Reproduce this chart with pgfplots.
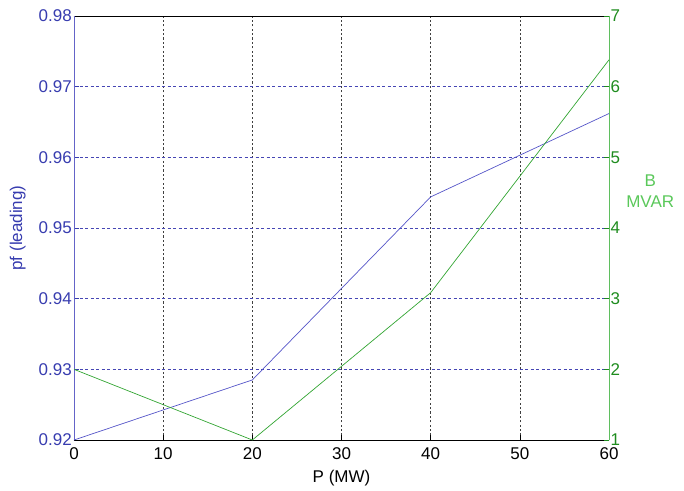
\documentclass[border=0pt]{standalone}
\usepackage{fontspec}
\setmainfont{Liberation Sans}
\usepackage{pgfplots}
\pgfplotsset{compat=1.18}
\definecolor{tickblue}{RGB}{55,60,175}
\definecolor{lineblue}{RGB}{85,85,200}
\definecolor{spineblue}{RGB}{100,100,200}
\definecolor{gridblue}{RGB}{70,70,180}
\definecolor{tickgreen}{RGB}{30,140,30}
\definecolor{linegreen}{RGB}{50,165,50}
\definecolor{spinegreen}{RGB}{95,190,95}
\definecolor{labelgreen}{RGB}{90,200,90}
\begin{document}
\begin{tikzpicture}
\pgfplotsset{every axis/.append style={
  width=535pt, height=424pt, scale only axis,
  xmin=0, xmax=60,
  /pgf/number format/assume math mode=true,
  tick label style={font=\fontsize{17}{20}\selectfont},
  tick align=inside, major tick length=5pt,
}}
\begin{axis}[name=a,
  ymin=0.92, ymax=0.98,
  xtick={0,10,20,30,40,50,60},
  ytick={0.92,0.93,0.94,0.95,0.96,0.97,0.98},
  xtick pos=left, ytick pos=left,
  separate axis lines,
  x axis line style={black, line width=0.8pt},
  y axis line style={spineblue, line width=0.8pt},
  xtick style={black, line width=0.6pt},
  ytick style={tickblue, line width=0.6pt},
  yticklabel style={text=tickblue, inner sep=2pt, /pgf/number format/.cd, fixed, fixed zerofill, precision=2},
  xticklabel style={inner xsep=1.5pt, inner ysep=0.3pt, yshift=-7pt},
  xmajorgrids, ymajorgrids,
  x grid style={black!75, dash pattern=on 2.2pt off 2.2pt, line width=0.6pt},
  y grid style={gridblue, dash pattern=on 3pt off 2.5pt, line width=0.6pt},
  xlabel={P (MW)},
  ylabel={pf (leading)},
  every axis x label/.style={at={(axis description cs:0.5,-0.09)}, anchor=center, font=\fontsize{17}{20}\selectfont},
  every axis y label/.style={at={(axis description cs:-0.105,0.5)}, anchor=center, rotate=90, text=tickblue, font=\fontsize{17}{20}\selectfont},
]
\addplot[lineblue, line width=0.7pt] coordinates {(0,0.92) (20,0.9285) (40,0.9544) (60,0.9662)};
\end{axis}
\begin{axis}[
  ymin=1, ymax=7,
  ytick={1,2,3,4,5,6,7},
  axis x line=none, axis y line*=right,
  y axis line style={spinegreen, line width=0.8pt},
  ytick style={tickgreen, line width=0.6pt},
  yticklabel style={text=tickgreen, inner xsep=1.5pt, inner ysep=0pt},
  ylabel={B\\MVAR},
  every axis y label/.style={at={(axis description cs:1.077,0.587)}, anchor=center, align=center, text=labelgreen, font=\fontsize{17}{21}\selectfont},
]
\addplot[linegreen, line width=0.7pt] coordinates {(0,2) (20,1) (40,3.085) (60,6.38)};
\end{axis}
\path ([xshift=-74pt,yshift=-50pt]a.south west) rectangle ([xshift=75pt,yshift=16pt]a.north east);
\end{tikzpicture}
\end{document}
